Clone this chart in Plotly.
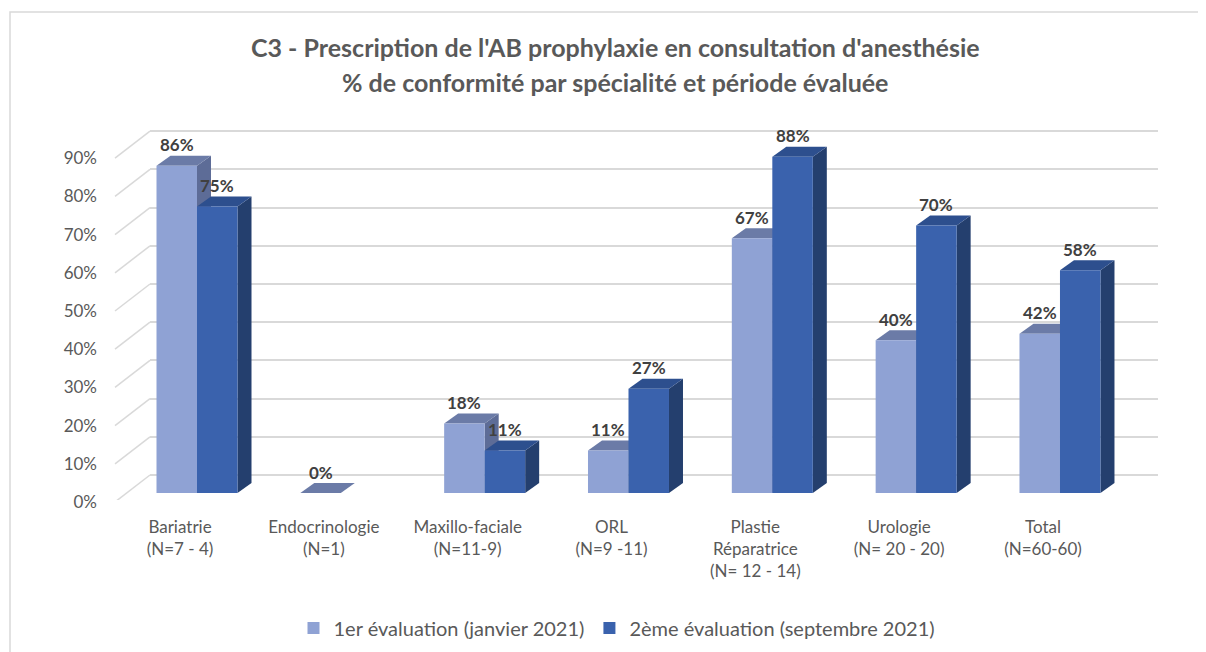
import plotly.graph_objects as go

# --- Données -----------------------------------------------------------
categories = [
    "Bariatrie<br>(N=7 - 4)",
    "Endocrinologie<br>(N=1)",
    "Maxillo-faciale<br>(N=11-9)",
    "ORL<br>(N=9 -11)",
    "Plastie<br>Réparatrice<br>(N= 12 - 14)",
    "Urologie<br>(N= 20 - 20)",
    "Total<br>(N=60-60)",
]
eval_1 = [0.857, 0.0, 0.182, 0.111, 0.667, 0.40, 0.417]
eval_2 = [0.75, None, 0.111, 0.273, 0.88, 0.70, 0.583]
series_names = ["1er évaluation (janvier 2021)", "2ème évaluation (septembre 2021)"]
y_ticks = [0.0, 0.1, 0.2, 0.3, 0.4, 0.5, 0.6, 0.7, 0.8, 0.9]

title_l1 = "C3 - Prescription de l'AB prophylaxie en consultation d'anesthésie"
title_l2 = "% de conformité par spécialité et période évaluée"

# --- Géométrie (pixels, repère de l'image de référence) ------------------
W, H = 1206, 652
OFF = 8                                   # marge par défaut du <body>
PL, PR, PT, PB = 150, 1158, 110, 500      # zone de tracé (mur du fond)
PX_X = 143.83                             # pixels par catégorie
X0_PX = 197                               # centre de la 1re catégorie (face avant)
PX_Y = 382                                # pixels pour 100 %
Y0_BAR = 493                              # 0 % des barres (face avant)
Y0_GRID = 475                             # 0 % du mur du fond
WALL_DX, WALL_DY = 35, 27                 # profondeur du mur latéral
BAR_PX = 40.5                             # largeur d'une barre
DEPTH_DX, DEPTH_DY = 14, 10               # profondeur des barres

x_range = [(PL - X0_PX) / PX_X, (PR - X0_PX) / PX_X]
grid_range = [-(PB - Y0_GRID) / PX_Y, (Y0_GRID - PT) / PX_Y]
bar_range = [-(PB - Y0_BAR) / PX_Y, (Y0_BAR - PT) / PX_Y]
BAR_W = BAR_PX / PX_X
DXU = DEPTH_DX / PX_X
DYU = DEPTH_DY / PX_Y


def paper_x(px):
    return (px - PL) / (PR - PL)


def paper_y(py):
    return (PB - py) / (PB - PT)


# Couleurs
GRID = '#D9D9D9'
TEXT = '#595959'
LABEL = '#404040'
colors = {
    'front': ['#8FA2D4', '#3A62AD'],
    'top': ['#6B7BA7', '#2D4F8E'],
    'side': ['#5D6C97', '#243F6E'],
}
FONT = 'Lato'

xs = list(range(len(categories)))
series = [eval_1, eval_2]

fig = go.Figure()

# Faces avant des barres
for k, vals in enumerate(series):
    fig.add_trace(go.Bar(
        x=xs, y=vals, name=series_names[k],
        width=BAR_W, offset=-BAR_W if k == 0 else 0,
        marker=dict(color=colors['front'][k], line=dict(width=0)),
    ))

shapes = []

# Cadre du graphique
shapes.append(dict(type='rect', xref='paper', yref='paper',
                   x0=paper_x(10), x1=paper_x(W + 10),
                   y0=paper_y(12), y1=paper_y(H + 10),
                   line=dict(color=GRID, width=1.5), layer='below'))

# Mur latéral gauche (diagonales)
for t in y_ticks:
    shapes.append(dict(type='line', xref='paper', yref='y2',
                       x0=paper_x(PL - WALL_DX), y0=t - WALL_DY / PX_Y,
                       x1=0, y1=t,
                       line=dict(color=GRID, width=1.5), layer='below'))

# Faces supérieures et latérales (effet 3D)
for k, vals in enumerate(series):
    for i, v in enumerate(vals):
        if v is None:
            continue
        xl = i - BAR_W if k == 0 else i
        xr = xl + BAR_W
        shapes.append(dict(
            type='path', xref='x', yref='y', layer='between',
            path=(f"M {xr},0 L {xr},{v} L {xr + DXU},{v + DYU} "
                  f"L {xr + DXU},{DYU} Z"),
            fillcolor=colors['side'][k], line=dict(width=0)))
        shapes.append(dict(
            type='path', xref='x', yref='y', layer='between',
            path=(f"M {xl},{v} L {xr},{v} L {xr + DXU},{v + DYU} "
                  f"L {xl + DXU},{v + DYU} Z"),
            fillcolor=colors['top'][k], line=dict(width=0)))

# Étiquettes de données
annotations = []
for k, vals in enumerate(series):
    for i, v in enumerate(vals):
        if v is None:
            continue
        xc = i - BAR_W / 2 if k == 0 else i + BAR_W / 2
        annotations.append(dict(
            x=xc, y=v, xref='x', yref='y', text=f"<b>{v:.0%}</b>",
            showarrow=False, yshift=21,
            font=dict(family=FONT, size=17, color=LABEL)))

# Titre (deux lignes)
for txt, py in [(title_l1, 47), (title_l2, 82)]:
    annotations.append(dict(
        x=paper_x(615), y=paper_y(py), xref='paper', yref='paper',
        text=f"<b>{txt}</b>", showarrow=False,
        xanchor='center', yanchor='middle',
        font=dict(family=FONT, size=25, color=TEXT)))

fig.update_layout(
    width=W - OFF, height=H - OFF,
    margin=dict(l=PL - OFF, r=W - PR, t=PT - OFF, b=H - PB, pad=0,
                autoexpand=False),
    paper_bgcolor='white', plot_bgcolor='white',
    font=dict(family=FONT, size=16, color=TEXT),
    showlegend=True,
    legend=dict(orientation='h', x=paper_x(617), y=paper_y(628),
                xanchor='center', yanchor='middle',
                font=dict(family=FONT, size=20, color=TEXT),
                itemwidth=30, bgcolor='rgba(0,0,0,0)'),
    xaxis=dict(range=x_range, tickvals=xs, ticktext=categories,
               showgrid=False, zeroline=False, showline=False, ticks='',
               ticklabelshift=-17, ticklabelstandoff=15, automargin=False,
               tickfont=dict(family=FONT, size=17, color=TEXT)),
    yaxis=dict(range=bar_range, showgrid=False, zeroline=False,
               showline=False, showticklabels=False, ticks=''),
    yaxis2=dict(range=grid_range, overlaying='y', side='left',
                tickvals=y_ticks, tickformat='.0%',
                showgrid=True, gridcolor=GRID, gridwidth=1.5,
                zeroline=False, showline=False, ticks='',
                ticklabelshift=27, ticklabelstandoff=52, automargin=False,
                tickfont=dict(family=FONT, size=17, color=TEXT)),
    shapes=shapes,
    annotations=annotations,
)

fig.write_html("out.html")
